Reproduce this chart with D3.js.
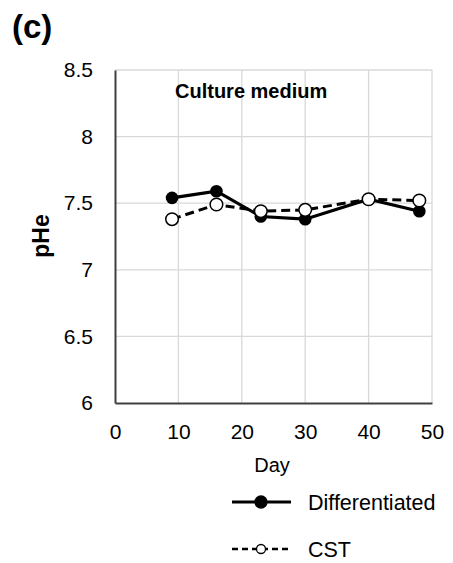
<!DOCTYPE html>
<html>
<head>
<meta charset="utf-8">
<script src="https://cdn.jsdelivr.net/npm/d3@7.9.0/dist/d3.min.js"></script>
<style>
  body { margin: 0; background: #fff; }
  svg text { font-family: "Liberation Sans", Arial, sans-serif; fill: #000; }
</style>
</head>
<body>
<svg id="chart" width="453" height="563"></svg>
<script>
const days = [9, 16, 23, 30, 40, 48];
const differentiated = [7.54, 7.59, 7.40, 7.38, 7.53, 7.44];
const cst = [7.38, 7.49, 7.44, 7.45, 7.53, 7.52];
const xTicks = [0, 10, 20, 30, 40, 50];
const yTicks = [6, 6.5, 7, 7.5, 8, 8.5];

const svg = d3.select('#chart');
const plotLeft = 115, plotRight = 432, plotTop = 70, plotBottom = 403;
const font = '"Liberation Sans", Arial, sans-serif';

const x = d3.scaleLinear().domain([0, 50]).range([plotLeft, plotRight]);
const y = d3.scaleLinear().domain([6, 8.5]).range([plotBottom, plotTop]);

// gridlines
svg.append('g')
  .selectAll('line')
  .data(yTicks.slice(1))
  .join('line')
  .attr('x1', plotLeft).attr('x2', plotRight)
  .attr('y1', d => y(d)).attr('y2', d => y(d))
  .attr('stroke', '#d9d9d9').attr('stroke-width', 1.3);

svg.append('g')
  .selectAll('line')
  .data(xTicks.slice(1))
  .join('line')
  .attr('x1', d => x(d)).attr('x2', d => x(d))
  .attr('y1', plotTop).attr('y2', plotBottom)
  .attr('stroke', '#d9d9d9').attr('stroke-width', 1.3);

// axes
const xAxis = svg.append('g')
  .attr('transform', `translate(0,${plotBottom})`)
  .call(d3.axisBottom(x).tickValues(xTicks).tickSize(0).tickPadding(21));
xAxis.select('.domain').attr('stroke', '#404040').attr('stroke-width', 2);
xAxis.selectAll('text').attr('font-size', 21).style('font-family', font);

const yAxis = svg.append('g')
  .attr('transform', `translate(${plotLeft},0)`)
  .call(d3.axisLeft(y).tickValues(yTicks).tickSize(0).tickPadding(22).tickFormat(d3.format('')));
yAxis.select('.domain').attr('stroke', '#404040').attr('stroke-width', 2);
yAxis.selectAll('text').attr('font-size', 21).style('font-family', font);

// lines
const line = d3.line().x(d => x(d[0])).y(d => y(d[1]));

svg.append('path')
  .datum(d3.zip(days, cst))
  .attr('d', line)
  .attr('fill', 'none').attr('stroke', '#000').attr('stroke-width', 3)
  .attr('stroke-dasharray', '9,5');

svg.append('path')
  .datum(d3.zip(days, differentiated))
  .attr('d', line)
  .attr('fill', 'none').attr('stroke', '#000').attr('stroke-width', 3.2);

svg.append('g').selectAll('circle')
  .data(d3.zip(days, differentiated))
  .join('circle')
  .attr('cx', d => x(d[0])).attr('cy', d => y(d[1])).attr('r', 6.3)
  .attr('fill', '#000');

svg.append('g').selectAll('circle')
  .data(d3.zip(days, cst))
  .join('circle')
  .attr('cx', d => x(d[0])).attr('cy', d => y(d[1])).attr('r', 6.3)
  .attr('fill', '#fff').attr('stroke', '#000').attr('stroke-width', 1.5);

// texts
svg.append('text').attr('x', 12).attr('y', 38)
  .attr('font-size', 33).attr('font-weight', 'bold').text('(c)');

svg.append('text').attr('x', 175).attr('y', 98)
  .attr('font-size', 20).attr('font-weight', 'bold')
  .text('Culture medium');

svg.append('text')
  .attr('transform', `translate(49,236) rotate(-90)`)
  .attr('text-anchor', 'middle').attr('font-size', 23).attr('font-weight', 'bold')
  .text('pHe');

svg.append('text').attr('x', 272).attr('y', 472)
  .attr('text-anchor', 'middle').attr('font-size', 20).text('Day');

// legend
const legend = [
  { label: 'Differentiated', fill: '#000', dash: null, r: 6, w: 3 },
  { label: 'CST', fill: '#fff', dash: '6,4', r: 4.5, w: 2.5 }
];
const lg = svg.append('g').selectAll('g')
  .data(legend)
  .join('g')
  .attr('transform', (d, i) => `translate(0,${502 + i * 47})`);

lg.append('line')
  .attr('x1', 232).attr('x2', 291).attr('y1', 0).attr('y2', 0)
  .attr('stroke', '#000').attr('stroke-width', d => d.w)
  .attr('stroke-dasharray', d => d.dash);
lg.append('circle')
  .attr('cx', 261).attr('cy', 0).attr('r', d => d.r)
  .attr('fill', d => d.fill).attr('stroke', '#000').attr('stroke-width', 1.3);
lg.append('text')
  .attr('x', 308).attr('y', 8)
  .attr('font-size', 21.5).text(d => d.label);
</script>
</body>
</html>
